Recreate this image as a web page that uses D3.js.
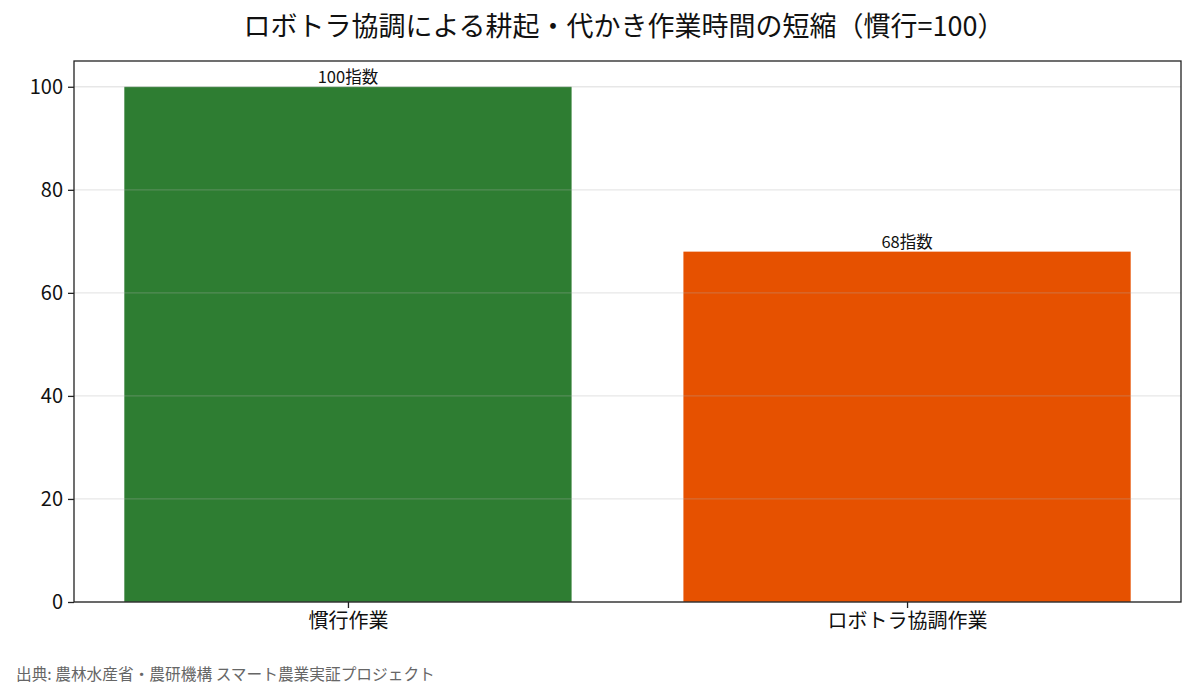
<!DOCTYPE html>
<html><head><meta charset="utf-8">
<script src="https://cdn.jsdelivr.net/npm/d3@7"></script>
<style>body{margin:0;background:#fff;} text{font-family:"Noto Sans CJK JP","Noto Sans",sans-serif;}</style>
</head><body>
<svg id="c" width="1195" height="698"></svg>
<script>
const categories = ["慣行作業", "ロボトラ協調作業"];
const values = [100, 68];
const barLabels = ["100指数", "68指数"];
const colors = ["#2e7d32", "#e65100"];
const yTicks = [0, 20, 40, 60, 80, 100];
const title = "ロボトラ協調による耕起・代かき作業時間の短縮（慣行=100）";
const source = "出典: 農林水産省・農研機構 スマート農業実証プロジェクト";

const svg = d3.select("#c");
const m = {l:74, r:1181, t:61, b:602};
const x = d3.scaleLinear().domain([-0.49, 1.49]).range([m.l, m.r]);
const y = d3.scaleLinear().domain([0, 105]).range([m.b, m.t]);
const bw = 0.8;

svg.append("text").attr("x", 624).attr("y", 36).attr("text-anchor","middle")
  .attr("font-size", 27).attr("fill","#111").text(title);

const g = svg.append("g");
g.selectAll("rect.bar").data(values).join("rect").attr("class","bar")
  .attr("x",(d,i)=>x(i-bw/2)).attr("width",(d,i)=>x(i+bw/2)-x(i-bw/2))
  .attr("y",d=>y(d)).attr("height",d=>y(0)-y(d)).attr("fill",(d,i)=>colors[i]);

// grid over bars
g.selectAll("line.grid").data(yTicks).join("line").attr("class","grid")
  .attr("x1",m.l).attr("x2",m.r).attr("y1",d=>y(d)).attr("y2",d=>y(d))
  .attr("stroke","#b0b0b0").attr("stroke-opacity",0.3).attr("stroke-width",1.3);

g.selectAll("text.lab").data(values).join("text").attr("class","lab")
  .attr("x",(d,i)=>x(i)).attr("y",d=>y(d)-4).attr("text-anchor","middle")
  .attr("font-size",16.5).attr("fill","#111").text((d,i)=>barLabels[i]);

const yAxis = d3.axisLeft(y).tickValues(yTicks).tickSize(6).tickPadding(5);
const ya = svg.append("g").attr("transform",`translate(${m.l},0)`).call(yAxis);
ya.select(".domain").remove();
ya.selectAll("text").attr("font-size",20).attr("fill","#111");
ya.selectAll("line").attr("stroke","#222").attr("stroke-width",1.3);

const xAxis = d3.axisBottom(x).tickValues([0,1]).tickFormat(i=>categories[i]).tickSize(6).tickPadding(6);
const xa = svg.append("g").attr("transform",`translate(0,${m.b})`).call(xAxis);
xa.select(".domain").remove();
xa.selectAll("text").attr("font-size",20).attr("fill","#111");
xa.selectAll("line").attr("stroke","#222").attr("stroke-width",1.3);

svg.append("rect").attr("x",m.l).attr("y",m.t).attr("width",m.r-m.l).attr("height",m.b-m.t)
  .attr("fill","none").attr("stroke","#222").attr("stroke-width",1.3);

svg.append("text").attr("x",16).attr("y",680).attr("font-size",15.7).attr("fill","#666").text(source);
</script>
</body></html>
